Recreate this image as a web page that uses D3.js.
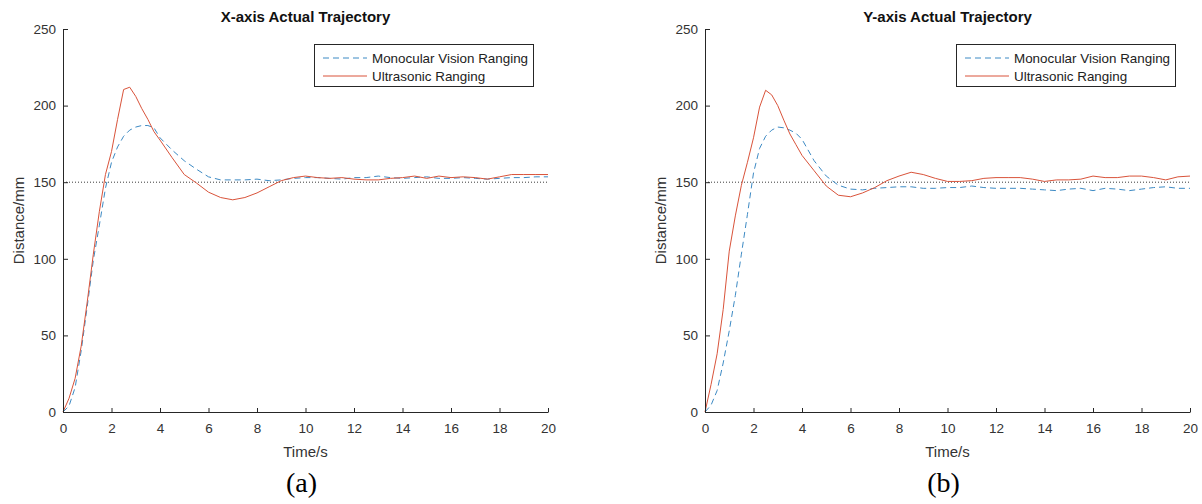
<!DOCTYPE html>
<html>
<head>
<meta charset="utf-8">
<script src="https://cdn.jsdelivr.net/npm/d3@7"></script>
<style>
  html, body { margin: 0; padding: 0; background: #fff; }
  svg { display: block; }
</style>
</head>
<body>
<svg id="chart" width="1202" height="504"></svg>
<script>
// ---------------- data ----------------
const timeS = [0,0.25,0.5,0.75,1,1.25,1.5,1.75,2,2.25,2.5,2.75,3,3.25,3.5,3.75,4,
  4.5,5,5.5,6,6.5,7,7.5,8,8.5,9,9.5,10,10.5,11,11.5,12,12.5,13,13.5,14,14.5,15,
  15.5,16,16.5,17,17.5,18,18.5,19,19.5,20];

const monocularX = [0,4,16,40,69,99,122,146,163,173,180,184,186,187,187,185.5,179,
  171,164,158.5,153.5,151.5,151.5,151.5,152,151,151.5,152.5,153,153,152.5,152,153,
  153,154,153,152.5,153,153.5,152.5,152.5,153,152.5,152,152.5,153,153,153.5,153.5];
const ultrasonicX = [0,9,22,43,72,103,131,155,170,191,210.5,212,206,198,191,183,177.5,
  166,155,149.5,143.5,140,138.5,140,143,147,151,153,154,153,152.5,153,152,151.5,
  151.5,152.5,153,154,152.5,154,153,153.5,153,152,153.5,155,155,155,155];

const monocularY = [0,4.5,14,32,53,76,103,129,156,172,180,184,186,185.5,184,182,178,
  164,154,148,145.5,145,146,146.5,147,147,146,146,146.5,146.5,147.5,146.5,146,146,
  146,145.5,145,144.5,145.5,146,144.5,146,145.5,144.5,145.5,146.5,147,146,146];
const ultrasonicY = [0,18,38,67,105,128,148,163,179,199,210,207,200,190.5,181.5,174.5,167.5,
  157.5,147.5,141.5,140.5,143,146.5,151,154,156.5,155,152.5,150.5,150.5,151,152.5,
  153,153,153,152,150.5,151.5,151.5,152,154,153,153,154,154,153,151.5,153.5,154];

const xTicks = [0,2,4,6,8,10,12,14,16,18,20];
const yTicks = [0,50,100,150,200,250];
const referenceLevel = 150;
const seriesNames = ["Monocular Vision Ranging", "Ultrasonic Ranging"];
const panelTitles = ["X-axis Actual Trajectory", "Y-axis Actual Trajectory"];
const panelLabels = ["(a)", "(b)"];
const xLabel = "Time/s";
const yLabel = "Distance/mm";

// ---------------- drawing ----------------
const svg = d3.select("#chart");
const COL_MONO = "#3d8ac4";
const COL_ULTRA = "#d9533a";
const AXIS_COL = "#262626";
const SANS = "'Liberation Sans', Arial, Helvetica, sans-serif";

function drawPanel(left, right, title, label, mono, ultra) {
  const top = 29, bottom = 412;
  const x = d3.scaleLinear().domain([0, 20]).range([left, right]);
  const y = d3.scaleLinear().domain([0, 250]).range([bottom, top]);
  const g = svg.append("g");

  // reference dotted line
  g.append("line")
    .attr("x1", x(0)).attr("x2", x(20))
    .attr("y1", y(referenceLevel)).attr("y2", y(referenceLevel))
    .attr("stroke", "#3a3a3a").attr("stroke-width", 1)
    .attr("stroke-dasharray", "1,2");

  const line = d3.line().x((d, i) => x(timeS[i])).y(d => y(d));

  g.append("path").datum(mono)
    .attr("d", line).attr("fill", "none")
    .attr("stroke", COL_MONO).attr("stroke-width", 1)
    .attr("stroke-dasharray", "6,4");
  g.append("path").datum(ultra)
    .attr("d", line).attr("fill", "none")
    .attr("stroke", COL_ULTRA).attr("stroke-width", 1);

  // axes
  const xAxis = d3.axisBottom(x).tickValues(xTicks).tickSizeInner(-4).tickSizeOuter(0).tickPadding(11);
  const yAxis = d3.axisLeft(y).tickValues(yTicks).tickSizeInner(-5).tickSizeOuter(0).tickPadding(7);

  const gx = g.append("g").attr("transform", `translate(0,${bottom})`).call(xAxis);
  const gy = g.append("g").attr("transform", `translate(${left},0)`).call(yAxis);
  [gx, gy].forEach(a => {
    a.select(".domain").attr("stroke", AXIS_COL).attr("stroke-width", 1);
    a.selectAll(".tick line").attr("stroke", AXIS_COL);
    a.selectAll(".tick text").attr("fill", "#333").style("font-family", SANS).style("font-size", "13.5px");
  });

  // title
  g.append("text").attr("x", (left + right) / 2).attr("y", 22)
    .attr("text-anchor", "middle")
    .style("font-family", SANS).style("font-size", "15px").style("font-weight", "bold")
    .attr("fill", "#111").text(title);

  // axis labels
  g.append("text").attr("x", (left + right) / 2).attr("y", 457)
    .attr("text-anchor", "middle")
    .style("font-family", SANS).style("font-size", "15px")
    .attr("fill", "#333").text(xLabel);
  g.append("text")
    .attr("transform", `translate(${left - 39},${(top + bottom) / 2}) rotate(-90)`)
    .attr("text-anchor", "middle")
    .style("font-family", SANS).style("font-size", "15px")
    .attr("fill", "#333").text(yLabel);

  // legend
  const lx = right - 234, ly = 44, lw = 219, lh = 42;
  const lg = g.append("g");
  lg.append("rect").attr("x", lx + 0.5).attr("y", ly + 0.5).attr("width", lw).attr("height", lh)
    .attr("fill", "#fff").attr("stroke", AXIS_COL).attr("stroke-width", 1);
  const rows = [
    {name: seriesNames[0], col: COL_MONO, dash: "6,4", dy: 14},
    {name: seriesNames[1], col: COL_ULTRA, dash: null, dy: 32}
  ];
  rows.forEach(r => {
    lg.append("line").attr("x1", lx + 9).attr("x2", lx + 53)
      .attr("y1", ly + r.dy).attr("y2", ly + r.dy)
      .attr("stroke", r.col).attr("stroke-width", 1)
      .attr("stroke-dasharray", r.dash);
    lg.append("text").attr("x", lx + 58).attr("y", ly + r.dy + 5)
      .style("font-family", SANS).style("font-size", "13.4px")
      .attr("fill", "#222").text(r.name);
  });

  // panel label
  svg.append("text").attr("x", (left + right) / 2 - 4).attr("y", 492)
    .attr("text-anchor", "middle")
    .style("font-family", "'Liberation Serif', 'Times New Roman', serif").style("font-size", "28px")
    .attr("fill", "#000").text(label);
}

drawPanel(63, 548, panelTitles[0], panelLabels[0], monocularX, ultrasonicX);
drawPanel(705, 1190, panelTitles[1], panelLabels[1], monocularY, ultrasonicY);
</script>
</body>
</html>
